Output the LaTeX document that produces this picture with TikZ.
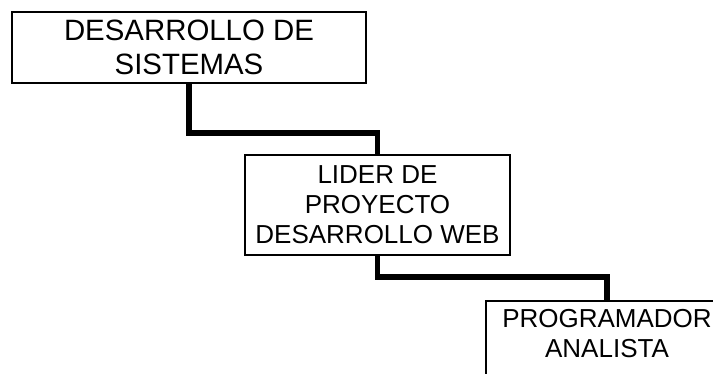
\documentclass[tikz,border=0pt]{standalone}
\usepackage{fontspec}
\setmainfont{Liberation Sans}
\begin{document}
\begin{tikzpicture}[x=1pt,y=1pt,
  box/.style={draw=black,line width=1.8pt,rectangle,inner sep=0pt,align=center},
  conn/.style={draw=black,line width=5.5pt,line join=miter}]
\useasboundingbox (0,0) rectangle (713,374);
\clip (0,0) rectangle (713,374);
\node[box,minimum width=354pt,minimum height=71pt,font=\fontsize{29.4}{34}\selectfont] (b1) at (189,326.5) {DESARROLLO DE\\SISTEMAS};
\node[box,minimum width=265pt,minimum height=100pt,font=\fontsize{26}{30}\selectfont] (b2) at (377.5,169) {LIDER DE\\PROYECTO\\DESARROLLO WEB};
\node[box,minimum width=242pt,minimum height=110pt,anchor=north] (b3) at (607,74) {};
\node[inner sep=0pt,anchor=north,align=center,font=\fontsize{26}{30}\selectfont] (t3) at (607,65) {PROGRAMADOR\\ANALISTA};
\coordinate (j1) at (0,241);
\coordinate (j2) at (0,97);
\draw[conn] (b1.south) -- (b1.south |- j1) -| (b2.north);
\draw[conn] (b2.south) -- (b2.south |- j2) -| (b3.north);
\end{tikzpicture}
\end{document}
